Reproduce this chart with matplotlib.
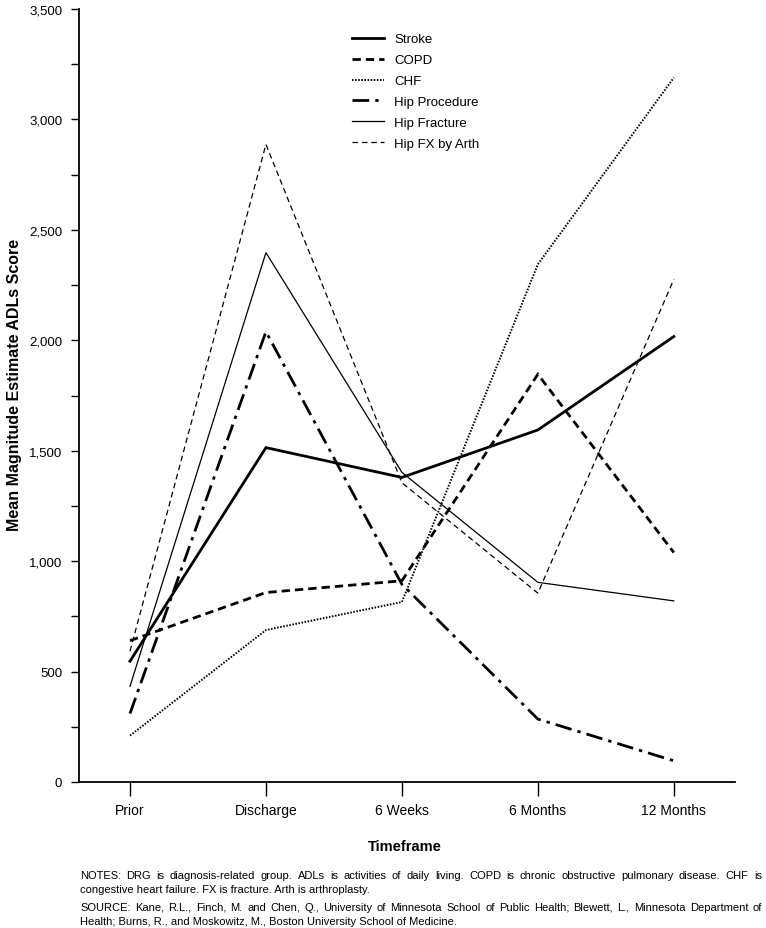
import matplotlib
matplotlib.use("Agg")
import matplotlib.pyplot as plt
from matplotlib.ticker import MultipleLocator, FuncFormatter

plt.rcParams['font.family'] = ['Liberation Sans', 'DejaVu Sans']

timeframes = ["Prior", "Discharge", "6 Weeks", "6 Months", "12 Months"]
stroke = [547, 1514, 1379, 1594, 2017]
copd = [640, 858, 911, 1846, 1039]
chf = [210, 688, 815, 2344, 3189]
hip_procedure = [310, 2039, 895, 285, 96]
hip_fracture = [433, 2397, 1402, 904, 820]
hip_fx_arth = [592, 2887, 1355, 855, 2276]

series_names = ["Stroke", "COPD", "CHF", "Hip Procedure", "Hip Fracture", "Hip FX by Arth"]

W, H = 766, 929
fig = plt.figure(figsize=(W / 100, H / 100), dpi=100)
left, right, top, bottom = 79, 735, 10, 783
ax = fig.add_axes([left / W, 1 - bottom / H, (right - left) / W, (bottom - top) / H])

x = list(range(len(timeframes)))
styles = [
    (stroke, dict(color='black', lw=2.0, ls='-')),
    (copd, dict(color='black', lw=2.0, ls=(0, (3.0, 1.8)))),
    (chf, dict(color='black', lw=1.4, ls=(0, (0.8, 0.8)))),
    (hip_procedure, dict(color='black', lw=2.0, ls=(0, (6, 2.2, 1.2, 2.2)))),
    (hip_fracture, dict(color='black', lw=0.9, ls='-')),
    (hip_fx_arth, dict(color='black', lw=0.9, ls=(0, (4.5, 3.0)))),
]
handles = []
for (vals, st), name in zip(styles, series_names):
    h, = ax.plot(x, vals, label=name, solid_joinstyle='miter', dash_joinstyle='miter', **st)
    handles.append(h)

ax.set_xlim(-0.375, 4.45)
ax.set_ylim(0, 3500)
ax.spines['top'].set_visible(False)
ax.spines['right'].set_visible(False)
ax.spines['left'].set_linewidth(1.3)
ax.spines['bottom'].set_linewidth(1.3)

ax.yaxis.set_major_locator(MultipleLocator(500))
ax.yaxis.set_minor_locator(MultipleLocator(250))
ax.yaxis.set_major_formatter(FuncFormatter(lambda v, p: f"{int(v):,}"))
ax.tick_params(axis='y', which='both', direction='out', length=6, width=1.0, pad=6, labelsize=9.5)
ax.set_xticks(x)
ax.set_xticklabels(timeframes)
ax.tick_params(axis='x', direction='out', length=10, width=1.0, pad=5, labelsize=10)

ax.set_xlabel("Timeframe", fontsize=10.5, fontweight='bold')
ax.set_ylabel("Mean Magnitude Estimate ADLs Score", fontsize=11.5, fontweight='bold')
ax.xaxis.set_label_coords((405 - left) / (right - left), -(847 - bottom) / (bottom - top))
ax.yaxis.set_label_coords(-(left - 15) / (right - left), (bottom - 385) / (bottom - top))
ax.xaxis.label.set_va('center')
ax.yaxis.label.set_va('center')

leg = ax.legend(handles=handles, loc='upper left',
                bbox_to_anchor=((352 - left) / (right - left), 1 - (34 - top) / (bottom - top)),
                frameon=False, fontsize=9.5, handlelength=2.4, handletextpad=0.8, labelspacing=0.66,
                borderaxespad=0, borderpad=0)

notes1 = ("NOTES: DRG is diagnosis-related group. ADLs is activities of daily living. COPD is chronic obstructive pulmonary disease. CHF is",
          "congestive heart failure. FX is fracture. Arth is arthroplasty.")
notes2 = ("SOURCE: Kane, R.L., Finch, M. and Chen, Q., University of Minnesota School of Public Health; Blewett, L., Minnesota Department of",
          "Health; Burns, R., and Moskowitz, M., Boston University School of Medicine.")

fig.canvas.draw()
renderer = fig.canvas.get_renderer()
x0, x1 = 80, 762
FS = 8.0


def justified(line, ypix, fs=FS):
    words = line.split(" ")
    ts = [fig.text(0, 0, w, fontsize=fs, va='baseline', ha='left') for w in words]
    widths = [t.get_window_extent(renderer).width for t in ts]
    gap = (x1 - x0 - sum(widths)) / (len(words) - 1)
    gap = max(gap, 2.0)
    cx = x0
    for t, w in zip(ts, widths):
        t.set_position((cx / W, 1 - ypix / H))
        cx += w + gap


def plain(line, ypix, fs=FS):
    fig.text(x0 / W, 1 - ypix / H, line, fontsize=fs, va='baseline', ha='left')


justified(notes1[0], 879)
plain(notes1[1], 893)
justified(notes2[0], 911)
plain(notes2[1], 925)

fig.savefig("out.png", dpi=100)
